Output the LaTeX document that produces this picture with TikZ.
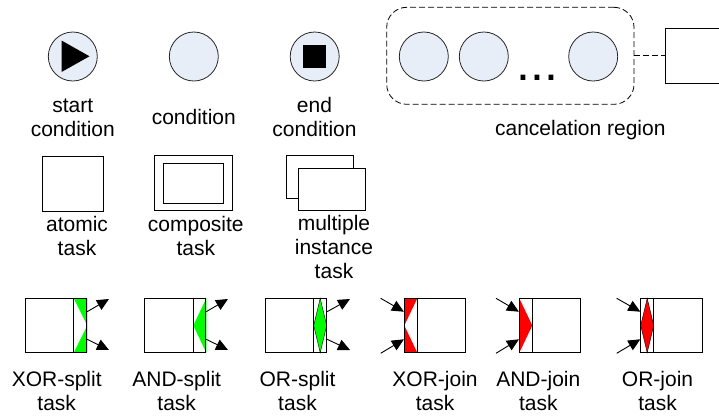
\documentclass[tikz,border=0pt]{standalone}
\usepackage{fontspec}
\setmainfont{Liberation Sans}
\usetikzlibrary{arrows.meta,calc}
\definecolor{condfill}{RGB}{232,238,248}
\definecolor{splitgreen}{RGB}{0,255,0}
\definecolor{joinred}{RGB}{255,0,0}
\newcommand{\lines}[1]{\begin{tabular}[b]{@{}c@{}}#1\end{tabular}}
\tikzset{
  cond/.style={circle, draw=black!85, fill=condfill, line width=0.8pt, minimum size=49pt, inner sep=0pt},
  taskbox/.style={rectangle, draw, line width=0.8pt, inner sep=0pt, minimum width=#1, minimum height=54.4pt},
  taskbox/.default=61.5pt,
  lbl/.style={font=\fontsize{21}{24}\selectfont, anchor=base, inner sep=0pt},
  flowarrow/.style={line width=0.9pt, -{Triangle[length=12pt,width=11pt]}},
  divider/.style={line width=0.8pt},
  dashline/.style={line width=0.8pt, dash pattern=on 6pt off 3pt},
}
\begin{document}
\begin{tikzpicture}[x=1pt,y=-1pt]
\clip (0,0) rectangle (719,418);
% ---------- conditions ----------
\node[cond] (start) at (72.8,56.5) {};
\fill (61.5,40.5) -- (89.5,56.3) -- (61.5,72) -- cycle;
\node[cond] (cnd) at (193.8,56.5) {};
\node[cond] (endc) at (314.7,56.5) {};
\fill (302.8,45) rectangle (325.8,68.3);
\node[lbl] (startlbl) at (72.8,136) {\lines{start\\condition}};
\node[lbl] (cndlbl) at (193.8,124) {condition};
\node[lbl] (endlbl) at (314.5,136) {\lines{end\\condition}};
% ---------- cancelation region ----------
\node[draw, dashline, rounded corners=20pt, minimum width=247.3pt, minimum height=97pt, inner sep=0pt] (cancel) at (510.35,55.8) {};
\node[cond] (c1) at (423.8,56.5) {};
\node[cond] (c2) at (483.8,56.5) {};
\node[cond] (c3) at (593.2,56.5) {};
\node[anchor=base, inner sep=0pt, font=\fontsize{50}{50}\selectfont] (dots) at (537.3,80.8) {...};
\node[taskbox=65pt, minimum height=55pt] (ctask) at (697.5,55.8) {};
\draw[dashline] (cancel.east) -- (ctask.west);
\node[lbl] (cancellbl) at (580.3,135) {cancelation region};
% ---------- task types ----------
\node[taskbox=61pt, minimum height=54.3pt] (atomic) at (72.8,183.8) {};
\node[taskbox=78.7pt, minimum height=54.6pt] (comp) at (193.3,183) {};
\node[taskbox=60.7pt, minimum height=40pt] (compin) at (193.3,183.3) {};
\node[taskbox=66.6pt, minimum height=43.3pt] (multback) at (320,176.65) {};
\node[taskbox=67.4pt, minimum height=42.4pt, fill=white] (multfront) at (332,189.5) {};
\node[lbl] (atomiclbl) at (77,255) {\lines{atomic\\task}};
\node[lbl] (complbl) at (195.8,255) {\lines{composite\\task}};
\node[lbl] (multlbl) at (334,278) {\lines{multiple\\instance\\task}};
% ---------- splits: decorator fills ----------
\fill[splitgreen] (73.75,298.3) -- (87.25,298.3) -- (87.25,325.5) -- cycle;
\fill[splitgreen] (73.75,352.7) -- (87.25,352.7) -- (87.25,325.5) -- cycle;
\fill[splitgreen] (193.3,325.5) -- (206.3,298.3) -- (206.3,352.7) -- cycle;
\filldraw[fill=splitgreen, draw=black, line width=0.4pt] (320.2,298.3) -- (326.7,325.5) -- (320.2,352.7) -- (313.7,325.5) -- cycle;
% ---------- joins: decorator fills ----------
\fill[joinred] (404.3,298.3) -- (417.3,298.3) -- (404.3,325.5) -- cycle;
\fill[joinred] (404.3,352.7) -- (417.3,352.7) -- (404.3,325.5) -- cycle;
\fill[joinred] (519.3,298.3) -- (532.3,325.5) -- (519.3,352.7) -- cycle;
\filldraw[fill=joinred, draw=black, line width=0.4pt] (647.2,298.3) -- (653.7,325.5) -- (647.2,352.7) -- (640.7,325.5) -- cycle;
% ---------- split / join task boxes ----------
\node[taskbox] (xs) at (56,325.5) {};
\node[taskbox] (as) at (175.05,325.5) {};
\node[taskbox] (os) at (295.95,325.5) {};
\node[taskbox] (xj) at (435.05,325.5) {};
\node[taskbox] (aj) at (550.05,325.5) {};
\node[taskbox] (oj) at (671.45,325.5) {};
\draw[divider] (73.75,298.3) -- (73.75,352.7);
\draw[divider] (193.3,298.3) -- (193.3,352.7);
\draw[divider] (313.7,298.3) -- (313.7,352.7);
\draw[divider] (417.3,298.3) -- (417.3,352.7);
\draw[divider] (532.3,298.3) -- (532.3,352.7);
\draw[divider] (653.7,298.3) -- (653.7,352.7);
% ---------- arrows ----------
\coordinate (xs-o1) at (109,299);
\coordinate (xs-o2) at (109,350);
\coordinate (as-o1) at (228,299);
\coordinate (as-o2) at (228,350);
\coordinate (os-o1) at (350,299);
\coordinate (os-o2) at (350,350);
\coordinate (xj-i1) at (380.7,298.3);
\coordinate (xj-i2) at (380.7,353.3);
\coordinate (aj-i1) at (496,298.3);
\coordinate (aj-i2) at (496,353.3);
\coordinate (oj-i1) at (616.7,298.3);
\coordinate (oj-i2) at (616.7,353.3);
\draw[flowarrow] ($(xs.north east)!0.25!(xs.south east)$) -- (xs-o1);
\draw[flowarrow] ($(xs.north east)!0.75!(xs.south east)$) -- (xs-o2);
\draw[flowarrow] ($(as.north east)!0.25!(as.south east)$) -- (as-o1);
\draw[flowarrow] ($(as.north east)!0.75!(as.south east)$) -- (as-o2);
\draw[flowarrow] ($(os.north east)!0.25!(os.south east)$) -- (os-o1);
\draw[flowarrow] ($(os.north east)!0.75!(os.south east)$) -- (os-o2);
\draw[flowarrow] (xj-i1) -- ($(xj.north west)!0.25!(xj.south west)$);
\draw[flowarrow] (xj-i2) -- ($(xj.north west)!0.75!(xj.south west)$);
\draw[flowarrow] (aj-i1) -- ($(aj.north west)!0.25!(aj.south west)$);
\draw[flowarrow] (aj-i2) -- ($(aj.north west)!0.75!(aj.south west)$);
\draw[flowarrow] (oj-i1) -- ($(oj.north west)!0.25!(oj.south west)$);
\draw[flowarrow] (oj-i2) -- ($(oj.north west)!0.75!(oj.south west)$);
% ---------- labels ----------
\node[lbl] (xslbl) at (56.7,410) {\lines{XOR-split\\task}};
\node[lbl] (aslbl) at (176.7,410) {\lines{AND-split\\task}};
\node[lbl] (oslbl) at (297.5,410) {\lines{OR-split\\task}};
\node[lbl] (xjlbl) at (435,410) {\lines{XOR-join\\task}};
\node[lbl] (ajlbl) at (538.3,410) {\lines{AND-join\\task}};
\node[lbl] (ojlbl) at (657.5,410) {\lines{OR-join\\task}};
\end{tikzpicture}
\end{document}
